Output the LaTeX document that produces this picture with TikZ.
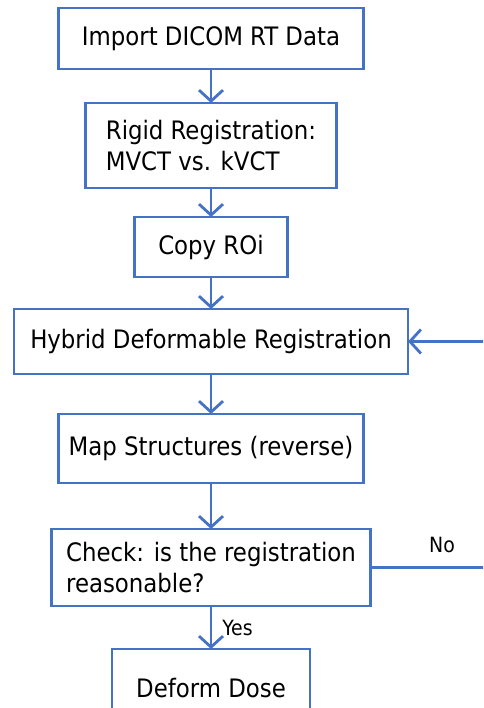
\documentclass[tikz,border=0pt]{standalone}
\usepackage{fontspec}
\setmainfont{DejaVu Sans Condensed}
\usepackage{xcolor}
\usetikzlibrary{arrows.meta, positioning}
\definecolor{flowblue}{RGB}{68,114,196}
\tikzstyle{process} = [rectangle, draw=flowblue, line width=2.8pt, outer sep=0pt, align=left, inner sep=4pt, font=\fontsize{25.4}{31}\selectfont]
\tikzstyle{arrow}   = [draw=flowblue, line width=2.8pt, -{Straight Barb[length=11pt,width=24pt,line width=2.8pt]}]
\tikzstyle{tag}     = [font=\fontsize{21}{25}\selectfont, inner sep=3pt]

\begin{document}
\begin{tikzpicture}[x=1pt, y=1pt]
\useasboundingbox (0,0) rectangle (483,-708);
\clip (0,0) rectangle (483,-708);

\node (import) [process, minimum width=305pt, minimum height=61pt] at (211,-38.5) {Import DICOM RT Data};
\node (rigid) [process, minimum width=251pt, minimum height=85pt, below=34pt of import] {Rigid Registration:\\MVCT vs. kVCT};
\node (copy) [process, minimum width=153pt, minimum height=60pt, below=29pt of rigid] {Copy ROi};
\node (hybrid) [process, minimum width=394pt, minimum height=65pt, below=32pt of copy] {Hybrid Deformable Registration};
\node (map) [process, minimum width=305pt, minimum height=69pt, below=40pt of hybrid] {Map Structures (reverse)};
\node (check) [process, minimum width=319pt, minimum height=77pt, below=46pt of map] {Check: is the registration\\reasonable?};
\node (dose) [process, minimum width=198pt, minimum height=78pt, below=43pt of check] {Deform Dose};

% Main vertical flow
\draw [arrow] (import) -- (rigid);
\draw [arrow] (rigid) -- (copy);
\draw [arrow] (copy) -- (hybrid);
\draw [arrow] (hybrid) -- (map);
\draw [arrow] (map) -- (check);
\draw [arrow] (check) -- node[tag, right=7pt]{Yes} (dose);

% No-branch loops back to the deformable registration
\draw [arrow] (check.east) -- node[tag, above=10pt, pos=0.55]{No} ++(130,0) |- (hybrid.east);

\end{tikzpicture}
\end{document}
